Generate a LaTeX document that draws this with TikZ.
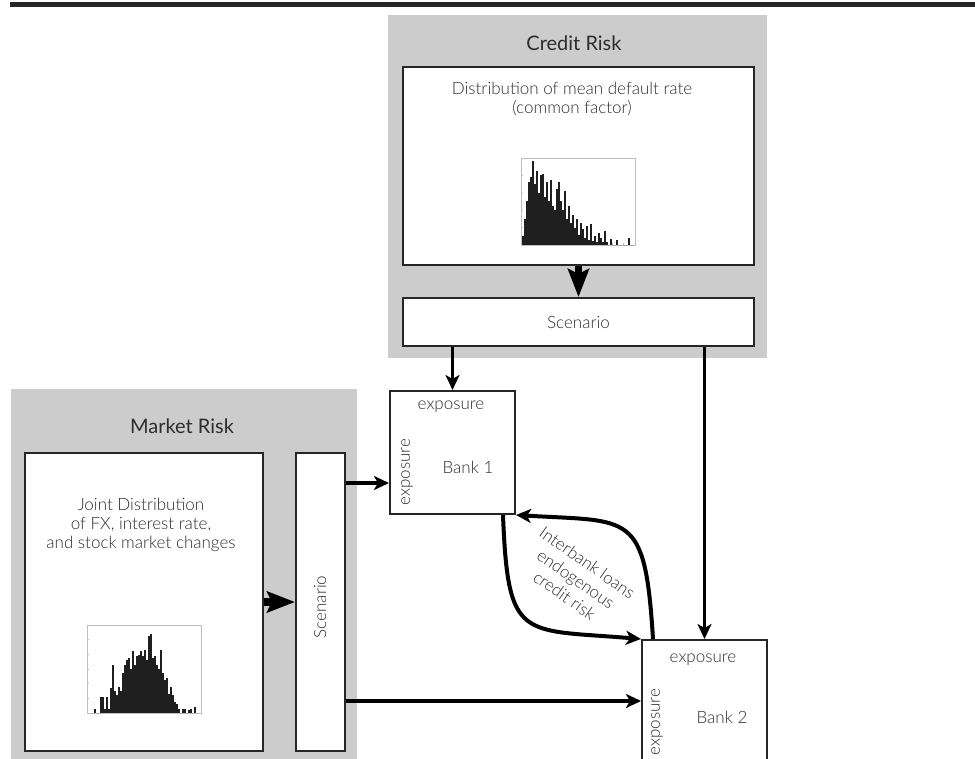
\documentclass[tikz,border=0pt]{standalone}
\usepackage{fontspec}
\setmainfont{Lato}
\newfontfamily\lightfont{Lato Light}
\usetikzlibrary{arrows.meta,calc}
\definecolor{riskgray}{RGB}{204,204,204}
\definecolor{txt}{RGB}{45,45,45}
\begin{document}
\begin{tikzpicture}[x=1pt,y=-1pt,
  panel/.style={fill=riskgray, draw=none, anchor=north west, inner sep=0pt},
  wbox/.style={fill=white, draw=black!85, line width=2pt, anchor=north west, inner sep=0pt},
  lbl/.style={font=\lightfont\fontsize{17}{19}\selectfont, text=txt, align=center, inner sep=0pt},
  ttl/.style={font=\fontsize{20}{24}\selectfont, text=txt, inner sep=0pt},
  conn/.style={line width=3.5pt, -{Stealth[length=15pt,width=14pt,inset=4pt]}},
  fat/.style={line width=7pt, -{Stealth[length=28pt,width=21pt,inset=5pt]}},
  curve/.style={line width=4pt, -{Stealth[length=15pt,width=14pt,inset=4pt]}},
  bar/.style={fill=black!88},
  frame/.style={draw=black!25, line width=0.5pt}
]
\useasboundingbox (0,0) rectangle (975,759);
\clip (0,0) rectangle (975,759);

% top rule
\fill[black!85] (10,2) rectangle (975,7);

% ---------- Credit Risk ----------
\node[panel, minimum width=379pt, minimum height=343pt] (cpanel) at (388,15) {};
\node[ttl] (ctitle) at (574,43) {Credit Risk};
\node[wbox, minimum width=351pt, minimum height=198pt] (cdist) at (402,66) {};
\node[lbl] (ctext) at (572,99) {Distribution of mean default rate\\(common factor)};
\node[wbox, lbl, minimum width=351pt, minimum height=48pt] (cscen) at (402,297) {Scenario};

% credit histogram
\draw[frame] (521,158) rectangle (635,245);
\foreach \t in {0,...,10} {\draw[frame] ({521+\t*11.4},245) -- ++(0,-1.5);}
\foreach \t in {0,...,5} {\draw[frame] (521,{245-\t*17.4}) -- ++(1.5,0);}
\foreach \h [count=\i from 0] in {0.1,0.3,0.5,0.72,0.78,0.97,0.7,0.85,0.6,0.8,0.82,0.55,0.72,0.5,0.75,0.45,0.4,0.64,0.72,0.5,0.4,0.62,0.3,0.45,0.25,0.35,0.2,0.3,0.12,0.25,0.18,0.08,0.22,0.06,0.24,0.05,0.1,0.04,0.14,0.08,0.03,0.16,0.03,0,0.07,0,0,0.06,0,0,0,0,0,0.08,0,0}
  {\fill[bar] ({522+\i*2},245) rectangle ({524+\i*2},{245-\h*87});}

% ---------- Market Risk ----------
\node[panel, minimum width=346pt, minimum height=380pt] (mpanel) at (11,389) {};
\node[ttl] (mtitle) at (182,426) {Market Risk};
\node[wbox, minimum width=238pt, minimum height=298pt] (mdist) at (24,452) {};
\node[lbl] (mtext) at (141,525) {Joint Distribution\\of FX, interest rate,\\and stock market changes};
\node[wbox, minimum width=49pt, minimum height=298pt] (mscen) at (295,452) {};
\node[lbl, rotate=90] (mscentext) at (320,607) {Scenario};

% market histogram
\draw[frame] (87,625) rectangle (201,713);
\foreach \t in {0,...,6} {\draw[frame] ({87+\t*19},713) -- ++(0,-1.5);}
\foreach \t in {0,...,6} {\draw[frame] (87,{713-\t*14.67}) -- ++(1.5,0);}
\foreach \h [count=\i from 0] in {0,0.05,0,0,0.18,0.18,0.05,0.18,0.05,0.28,0.55,0.25,0.2,0.3,0.25,0.45,0.55,0.6,0.62,0.5,0.7,0.55,0.65,0.66,0.7,0.65,0.72,0.6,0.88,0.9,0.62,0.65,0.55,0.5,0.72,0.45,0.38,0.4,0.22,0.3,0.2,0.12,0.1,0.05,0,0.05,0.05,0,0.03,0.05,0,0.07}
  {\fill[bar] ({92+\i*2},713) rectangle ({94+\i*2},{713-\h*88});}

% ---------- Banks ----------
\node[wbox, minimum width=125pt, minimum height=123pt] (b1) at (389,390) {};
\node[lbl] (b1top) at ($(b1.north west)+(62,17)$) {exposure};
\node[lbl, rotate=90] (b1side) at ($(b1.north west)+(18,82)$) {exposure};
\node[lbl] (b1name) at ($(b1.north west)+(79,77)$) {Bank 1};

\node[wbox, minimum width=125pt, minimum height=130pt] (b2) at (641,639) {};
\node[lbl] (b2top) at ($(b2.north west)+(62,21)$) {exposure};
\node[lbl, rotate=90] (b2side) at ($(b2.north west)+(16,83)$) {exposure};
\node[lbl] (b2name) at ($(b2.north west)+(81,78)$) {Bank 2};

% ---------- Connectors ----------
\draw[fat] (cdist.south) -- (cscen.north);
\draw[conn] (cscen.south -| b1.north) -- (b1.north);
\draw[conn] (cscen.south -| b2.north) -- (b2.north);

\draw[fat, line width=8pt] (mdist.east) -- (mscen.west);
\coordinate (b1in) at ($(b1.north west)+(0,93)$);
\draw[conn] (mscen.east |- b1in) -- (b1in);
\coordinate (b2in) at ($(b2.north west)+(0,62)$);
\draw[conn] (mscen.east |- b2in) -- (b2in);

% interbank loans
\coordinate (s1) at ($(b1.south west)+(114,0)$);
\draw[curve] (s1) .. controls +(5,127) and +(-120,-10) .. (b2.north west);
\coordinate (s2) at ($(b2.north west)+(12,0)$);
\draw[curve] (s2) .. controls +(-8,-129) and +(115,7) .. (b1.south east);
\node[lbl, font=\lightfont\fontsize{17}{20}\selectfont, rotate=-35] (ibtext) at (576,579) {Interbank loans\\endogenous\\credit risk};
\end{tikzpicture}
\end{document}
